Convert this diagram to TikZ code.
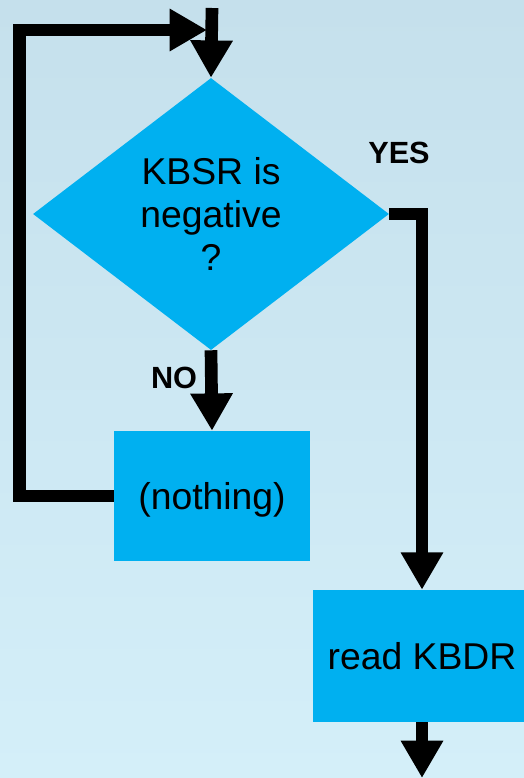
\documentclass[tikz,border=0pt]{standalone}
\usepackage{fontspec}
\setmainfont{Liberation Sans}
\usetikzlibrary{shapes.geometric,arrows.meta}
\definecolor{boxblue}{HTML}{00B0F0}
\definecolor{bgtop}{HTML}{C5E0EC}
\definecolor{bgbot}{HTML}{D4EFF9}
\tikzset{
  stepbox/.style={rectangle, fill=boxblue, inner sep=0pt, align=center,
    font=\fontsize{28}{32}\selectfont},
  decision/.style={diamond, fill=boxblue, inner sep=0pt, align=center,
    minimum width=267pt, minimum height=204pt,
    font=\fontsize{28}{32.5}\selectfont},
  flow/.style={line width=9.5pt, -{Triangle[width=30pt,length=28pt]}},
  answer/.style={font=\fontsize{23}{26}\selectfont\bfseries},
}
\begin{document}
\begin{tikzpicture}[x=0.75pt,y=-0.75pt]
  % page and background
  \useasboundingbox (0,0) rectangle (524,778);
  \clip (0,0) rectangle (524,778);
  \shade[top color=bgtop, bottom color=bgbot] (0,0) rectangle (524,778);

  % nodes
  \node[decision] (dec) at (211,214) {KBSR is\\negative\\?};
  \node[stepbox, text depth=0pt, minimum width=147pt, minimum height=97.5pt] (nothing) at (212,496) {(nothing)};
  \node[stepbox, minimum width=163.5pt, minimum height=99pt] (read) at (422,656) {read KBDR};

  \coordinate (entry) at (212,8);
  \coordinate (loopend) at (207,30);
  \coordinate (exit) at (422,778);

  % labels
  \node[answer] (yes) at (399,153) {YES};
  \node[answer] (no) at (174,378) {NO};

  % connectors
  \draw[flow] (entry) -- (dec.north);
  \draw[flow] (dec.south) -- (nothing.north);
  \draw[flow] (dec.east) -| (read.north);
  \draw[flow] (nothing.west) -| (19.5,30) -- (loopend);
  \draw[flow] (read.south) -- (exit);
\end{tikzpicture}
\end{document}
